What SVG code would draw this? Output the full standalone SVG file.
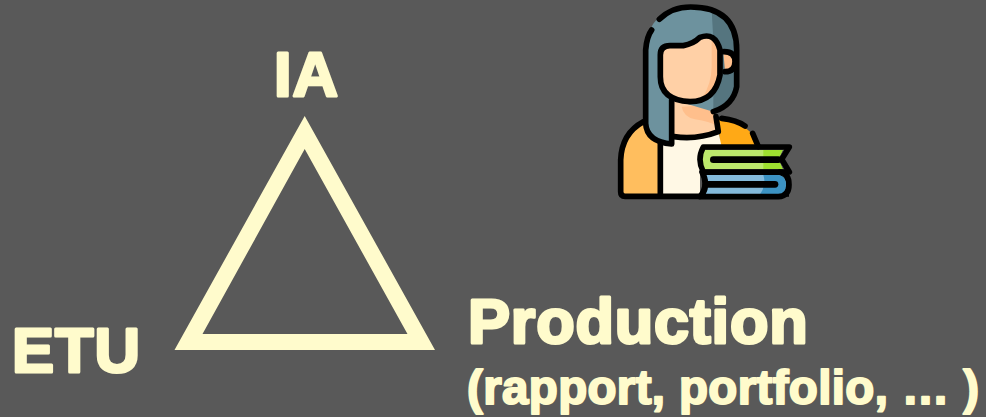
<svg xmlns="http://www.w3.org/2000/svg" width="986" height="417" viewBox="0 0 986 417">
<style>
.t{font-family:"Liberation Sans",Arial,sans-serif;font-weight:700;fill:#FFFBCC;stroke:#FFFBCC;stroke-linejoin:round;stroke-linecap:round}
.o{stroke:#000;stroke-width:17;stroke-linejoin:round;stroke-linecap:round;fill:none}
.n{stroke:none}
</style>
<rect width="986" height="417" fill="#595959"/>
<g id="triangle"><path fill="#FFFBCC" fill-rule="evenodd" d="M304.700 116L435 350H174.500ZM304.700 149L202.500 334H407.500Z"/></g>
<g id="label-ia"><text class="t" x="274" y="96" font-size="63" letter-spacing="1" stroke-width="3">IA</text></g>
<g id="label-etu"><text class="t" x="12" y="372" font-size="63" letter-spacing="1" stroke-width="3">ETU</text></g>
<g id="label-production"><text class="t" x="468" y="343" font-size="63" letter-spacing=".8" stroke-width="3">Production</text><text class="t" x="467" y="404" font-size="47.500" letter-spacing=".35" stroke-width="2">(rapport, portfolio, … )</text></g>
<g id="icon" transform="translate(600 0) scale(.33333)">
<path class="n" fill="#FFBE5E" d="M60 585V480Q65 400 135 365L180 440V585Z"/>
<path class="n" fill="#FFA916" d="M355 355Q420 365 450 395L475 440H360Z"/>
<path class="n" fill="#FFF8E5" d="M180 440L225 410Q290 420 355 395L365 440L300 450V585H180Z"/>
<path class="n" fill="#FFD0A6" d="M222 300V410Q290 420 355 395L335 320Z"/>
<path class="n" fill="#FFBF8C" d="M245 320Q250 350 285 358Q330 365 350 378L335 315Z"/>
<path class="n" fill="#6D929E" d="M137 150Q145 21 272 21Q410 21 410 150V260Q400 315 340 335L222 300V432Q137 425 137 370Z"/>
<path class="n" fill="#55757F" d="M335 30Q410 60 410 150V260Q400 315 340 335V120Z"/>
<path class="n" fill="#FFBF8C" d="M370 155Q405 155 405 185Q405 215 375 215Z"/>
<path class="n" fill="#FFD0A6" d="M181 165Q181 137 210 137H250Q280 132 300 112Q345 95 360 150V225Q345 305 270 305Q181 300 181 230Z"/>
<path class="n" fill="#FFBF8C" d="M335 110Q355 120 360 150V225Q350 280 305 298Q335 250 335 200Z"/>
<path class="o" d="M155 90Q140 110 137 150V370Q140 425 215 432V300"/>
<path class="o" d="M178 58Q215 21 272 21Q410 21 410 150V260Q400 315 340 335"/>
<path class="o" d="M181 165Q181 137 210 137H250Q280 132 300 112Q345 95 360 150V225Q345 305 270 305Q181 300 181 230Z"/>
<path class="o" d="M372 155Q405 155 405 185Q405 215 375 215"/>
<path class="o" d="M222 410Q290 420 355 395L348 350"/>
<path class="o" d="M365 355Q410 360 435 378M458 400L475 440"/>
<path class="o" d="M130 365Q65 400 62 480V575Q62 589 75 589H300"/>
<path class="o" d="M181 432V585"/>
<path class="n" fill="#000" d="M296 585Q318 555 300 520H540L567 545V590H300Z"/>
<path class="n" fill="#BCE86C" d="M310 450H548L535 478L548 507H310Q300 495 300 478Q300 460 310 450Z"/>
<path class="n" fill="#9FE030" d="M490 450H548L535 478L548 507H490Z"/>
<path class="n" fill="#84BADB" d="M317 525H535Q558 528 558 554Q558 580 535 583H317Q332 555 317 525Z"/>
<path class="n" fill="#3C92C2" d="M490 525H535Q558 528 558 554Q558 580 535 583H480Q500 555 490 525Z"/>
<path class="o" d="M310 441H568L545 478L568 516H310Q290 478 310 441Z"/>
<path class="o" d="M306 516Q328 555 300 590H535Q567 588 567 554Q567 520 540 516"/>
<path class="o" style="stroke-width:20" d="M340 479H535"/>
<path class="o" style="stroke-width:20" d="M318 553H525"/>
</g>
</svg>
